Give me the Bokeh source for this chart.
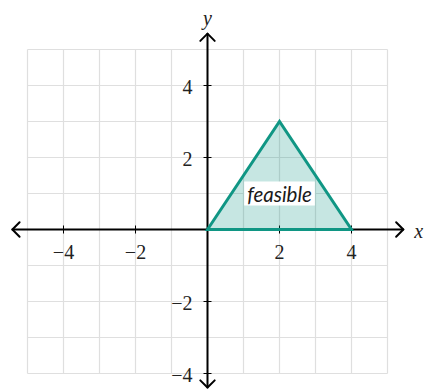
import math
from bokeh.plotting import figure
from bokeh.models import ColumnDataSource
from bokeh.core.properties import value
from bokeh.embed import file_html
from bokeh.resources import INLINE

# ---- data ----
grid_x = [-5, -4, -3, -2, -1, 0, 1, 2, 3, 4, 5]
grid_y = [-4, -3, -2, -1, 0, 1, 2, 3, 4, 5]
tick_vals = [-4, -2, 2, 4]
tick_labels = ["−4", "−2", "2", "4"]
region_x = [0, 2, 4]
region_y = [0, 3, 0]
label_x = [2]
label_y = [1]
label_text = ["feasible"]
x_axis_ext = [-5.42, 5.44]
y_axis_ext = [-4.39, 5.44]

TEAL = "#109684"
W, H = 424, 389
OX, OY, S = 207.0, 229.0, 36.0   # origin pixel and pixels per unit

p = figure(width=W, height=H, x_range=(-OX / S, (W - OX) / S),
           y_range=((OY - H) / S, OY / S),
           min_border=0, toolbar_location=None, output_backend="svg")
p.axis.visible = False
p.grid.visible = False
p.outline_line_color = None
p.background_fill_color = "white"
p.border_fill_color = "white"

# grid
gx0 = min(grid_x); gx1 = max(grid_x)
gy0 = min(grid_y); gy1 = max(grid_y)
p.segment(x0=grid_x, y0=[gy0] * len(grid_x), x1=grid_x, y1=[gy1] * len(grid_x),
          line_color="#dfdfdf", line_width=1.2)
p.segment(x0=[gx0] * len(grid_y), y0=grid_y, x1=[gx1] * len(grid_y), y1=grid_y,
          line_color="#dfdfdf", line_width=1.2)

# axes with chevron heads
hd = 0.2   # head depth (data units)
hw = 0.2   # head half-width
xa0, xa1 = x_axis_ext
ya0, ya1 = y_axis_ext
lines_x = [[xa0, xa1], [0, 0],
           [xa0 + hd, xa0, xa0 + hd], [xa1 - hd, xa1, xa1 - hd],
           [-hw, 0, hw], [-hw, 0, hw]]
lines_y = [[0, 0], [ya0, ya1],
           [hw, 0, -hw], [hw, 0, -hw],
           [ya1 - hd, ya1, ya1 - hd], [ya0 + hd, ya0, ya0 + hd]]
p.multi_line(xs=lines_x, ys=lines_y, line_color="black", line_width=2,
             line_join="round", line_cap="round")

# ticks
n = len(tick_vals)
p.scatter(x=tick_vals, y=[0] * n, marker="dash", angle=math.pi / 2, size=8,
          line_color="black", line_width=1)
p.scatter(x=[0] * n, y=tick_vals, marker="dash", size=8,
          line_color="black", line_width=1)

# tick labels
p.text(x=tick_vals, y=[0] * n, text=tick_labels, text_align="center",
       text_baseline="middle", y_offset=22, text_font=value("Liberation Serif"),
       text_font_size="20px", text_color="#222222")
p.text(x=[0] * n, y=tick_vals, text=tick_labels, text_align="right",
       text_baseline="middle", x_offset=-15, y_offset=1,
       text_font=value("Liberation Serif"),
       text_font_size="20px", text_color="#222222")

# axis names
p.text(x=[xa1], y=[0], text=["x"], text_align="left", text_baseline="alphabetic",
       x_offset=11, y_offset=1, text_font=value("Liberation Serif"),
       text_font_style="italic", text_font_size="20px", text_color="#222222")
p.text(x=[0], y=[ya1], text=["y"], text_align="center", text_baseline="alphabetic",
       y_offset=-16, text_font=value("Liberation Serif"),
       text_font_style="italic", text_font_size="20px", text_color="#222222")

# feasible region
p.patch(region_x, region_y, fill_color=TEAL, fill_alpha=0.24,
        line_color=TEAL, line_width=3, line_join="miter")

src = ColumnDataSource(dict(x=label_x, y=label_y, text=label_text))
p.text(x="x", y="y", text="text", source=src, text_align="center",
       text_baseline="middle", text_font=value("Lato"), text_font_style="italic",
       text_font_size="20.5px", text_color="#1a1a1a",
       background_fill_color="white", padding=(3, 0))

open("out.html", "w").write(file_html(p, INLINE))
